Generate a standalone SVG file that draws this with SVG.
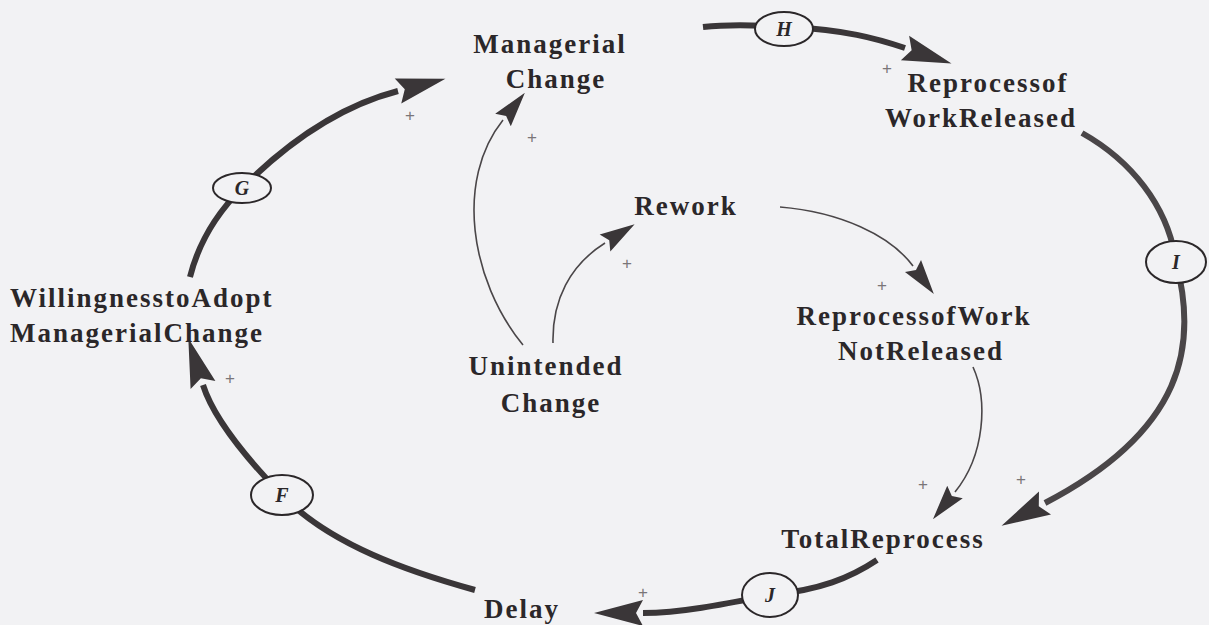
<svg xmlns="http://www.w3.org/2000/svg" width="1209" height="625" viewBox="0 0 1209 625">
<style>
.lbl{font-family:"Liberation Serif","Times New Roman",serif;font-weight:bold;font-size:27px;letter-spacing:2px;fill:#2b2729;text-anchor:middle}
.lft{text-anchor:start}
.thick{fill:none;stroke:#3a3638;stroke-width:6;stroke-linecap:butt}
.gray{stroke:#4a4648}
.thin{fill:none;stroke:#4a4648;stroke-width:1.6}
.oval{fill:#f2f2f4;stroke:#2b2729;stroke-width:2}
.ol{font-family:"Liberation Serif","Times New Roman",serif;font-style:italic;font-weight:bold;font-size:20px;fill:#2b2729;text-anchor:middle}
.pl{font-family:"Liberation Sans",Arial,sans-serif;font-size:17px;fill:#7a7678;text-anchor:middle}
</style>
<defs>
<marker id="ak" markerUnits="userSpaceOnUse" markerWidth="60" markerHeight="32" refX="0" refY="0" viewBox="-2 -16 60 32" orient="auto" overflow="visible">
<path d="M0,-13 L49,0 L0,13 L7,0 z" fill="#3a3638"/>
</marker>
<marker id="an" markerUnits="userSpaceOnUse" markerWidth="45" markerHeight="24" refX="0" refY="0" viewBox="-2 -12 45 24" orient="auto" overflow="visible">
<path d="M0,-10 L35,0 L0,10 L5,0 z" fill="#3a3638"/>
</marker>
</defs>
<rect width="1209" height="625" fill="#f2f2f4"/>
<g id="connectors">
<path class="thick" d="M703,27 Q730,24 770,26"/>
<path class="thick" d="M790,27 C 845,30 875,38 905,48" marker-end="url(#ak)"/>
<path class="thick gray" d="M1082,133 C 1130,160 1168,205 1176,262 C 1198,345 1185,430 1045,503" marker-end="url(#ak)"/>
<path class="thick" d="M877,560 C 850,578 820,590 770,595 C 720,605 680,613 643,613" marker-end="url(#ak)"/>
<path class="thick" d="M475,590 C 410,572 330,545 282,495 C 250,462 214,420 203,385" marker-end="url(#ak)"/>
<path class="thick" d="M190,277 C 198,245 215,215 242,188 C 290,140 340,106 398,91" marker-end="url(#ak)"/>
<path class="thin" d="M523,345 C 470,280 455,180 503,120" marker-end="url(#an)"/>
<path class="thin" d="M553,343 C 552,300 570,265 605,243" marker-end="url(#an)"/>
<path class="thin" d="M780,207 C 840,212 890,235 913,266" marker-end="url(#an)"/>
<path class="thin" d="M973,367 C 988,400 985,455 955,492" marker-end="url(#an)"/>
</g>
<g id="signs">
<text class="pl" x="410" y="121">+</text>
<text class="pl" x="532" y="143">+</text>
<text class="pl" x="627" y="269">+</text>
<text class="pl" x="887" y="74">+</text>
<text class="pl" x="882" y="291">+</text>
<text class="pl" x="923" y="490">+</text>
<text class="pl" x="1021" y="485">+</text>
<text class="pl" x="643" y="598">+</text>
<text class="pl" x="230" y="384">+</text>
</g>
<g id="oval-H"><ellipse class="oval" cx="784" cy="29" rx="29" ry="17"/><text class="ol" x="784" y="36">H</text></g>
<g id="oval-G"><ellipse class="oval" cx="242" cy="188" rx="29" ry="15"/><text class="ol" x="242" y="195">G</text></g>
<g id="oval-I"><ellipse class="oval" cx="1176" cy="262" rx="30" ry="21"/><text class="ol" x="1176" y="269">I</text></g>
<g id="oval-F"><ellipse class="oval" cx="282" cy="495" rx="31" ry="20"/><text class="ol" x="282" y="502">F</text></g>
<g id="oval-J"><ellipse class="oval" cx="770" cy="595" rx="28" ry="22"/><text class="ol" x="770" y="602">J</text></g>
<g id="managerial-change"><text class="lbl" x="550" y="53">Managerial</text><text class="lbl" x="556" y="88">Change</text></g>
<g id="reprocess-released"><text class="lbl" x="988" y="92">Reprocessof</text><text class="lbl" x="981" y="127">WorkReleased</text></g>
<g id="rework"><text class="lbl" x="686" y="215">Rework</text></g>
<g id="willingness"><text class="lbl lft" x="10" y="307">WillingnesstoAdopt</text><text class="lbl lft" x="10" y="342">ManagerialChange</text></g>
<g id="reprocess-not-released"><text class="lbl" x="914" y="325">ReprocessofWork</text><text class="lbl" x="921" y="360">NotReleased</text></g>
<g id="unintended-change"><text class="lbl" x="546" y="375">Unintended</text><text class="lbl" x="551" y="412">Change</text></g>
<g id="total-reprocess"><text class="lbl" x="883" y="548">TotalReprocess</text></g>
<g id="delay"><text class="lbl" x="522" y="618">Delay</text></g>
</svg>
